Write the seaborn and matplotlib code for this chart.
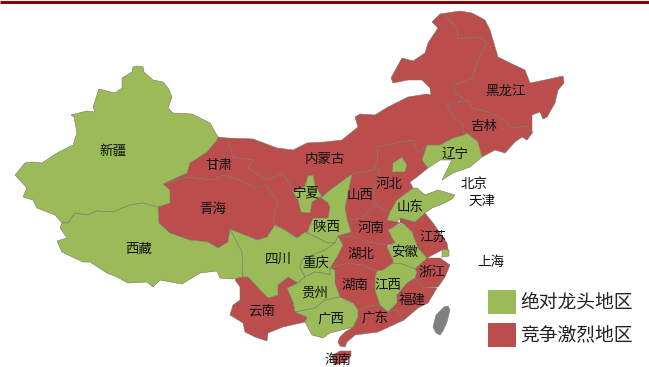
import matplotlib
matplotlib.use("Agg")
import matplotlib.pyplot as plt
import seaborn as sns

sns.set_theme(style="white")
plt.rcParams['font.family'] = ['Noto Sans CJK SC', 'DejaVu Sans']

XINJIANG = [(137,66),(143,67),(144,72),(153,80),(163,82),(168,88),(172,97),(168,108),(173,113),(192,114),(210,123),(218,137),
            (217,140),(207,152),(190,163),(187,173),(163,184),(170,190),(170,203),(158,207),(143,203),(130,205),(113,212),(97,211),
            (88,215),(75,213),(68,223),(62,223),(55,215),(37,208),(33,200),(23,197),(27,188),(15,175),(25,163),(33,162),(42,163),
            (57,153),(73,145),(77,133),(74,117),(71,115),(87,111),(95,112),(93,107),(99,89),(115,93),(122,88),(122,78),(132,72),(133,67)]
XIZANG = [(62,223),(68,223),(75,213),(88,215),(97,211),(113,212),(130,205),(143,203),(158,207),(159,223),(170,233),(190,240),
          (208,242),(218,248),(228,242),(230,229),(242,252),(243,277),(233,279),(220,278),(217,271),(200,273),(182,284),(160,280),
          (153,287),(147,282),(128,283),(117,277),(107,273),(90,262),(83,262),(68,255),(62,252),(57,241),(67,238),(60,228)]
QINGHAI = [(163,184),(187,177),(213,180),(223,175),(240,180),(253,187),(267,187),(278,202),(273,220),(275,225),(267,237),(257,240),
           (230,229),(228,242),(218,248),(208,242),(190,240),(170,233),(159,223),(158,207),(170,203),(170,190)]
GANSU = [(218,137),(227,138),(233,157),(253,160),(248,168),(267,180),(283,173),(288,182),(293,192),(298,200),(301,212),(310,213),
         (312,202),(320,197),(328,203),(330,207),(328,218),(313,218),(307,233),(305,232),(297,238),(285,230),(275,225),(273,220),
         (278,202),(267,187),(253,187),(240,180),(223,175),(213,180),(187,177),(163,184),(187,173),(190,163),(207,152),(217,140)]
NEIMENGGU = [(227,138),(253,139),(277,148),(293,150),(307,143),(325,142),(342,140),(358,127),(355,117),(360,114),(375,115),(388,107),
             (408,97),(427,94),(431,95),(430,88),(422,80),(408,80),(393,83),(391,78),(402,58),(413,61),(425,53),(428,43),(438,28),
             (432,22),(440,14),(445,15),(457,28),(458,39),(480,37),(487,43),(478,60),(472,78),(455,85),(455,93),(463,98),(457,103),
             (447,105),(453,117),(462,123),(464,135),(453,138),(440,145),(427,145),(418,153),(413,140),(400,142),(378,147),(377,163),
             (373,170),(352,174),(330,190),(322,197),(315,185),(313,175),(308,176),(305,186),(293,192),(288,182),(283,173),(267,180),
             (248,168),(253,160),(233,157)]
HEILONGJIANG = [(440,14),(460,11),(472,13),(485,20),(490,30),(498,57),(508,62),(525,70),(530,83),(545,80),(563,76),(564,83),(558,90),
                (555,103),(547,117),(543,119),(540,112),(532,115),(532,132),(525,126),(512,128),(505,120),(488,112),(472,108),(468,100),
                (447,105),(457,103),(463,98),(455,93),(455,85),(472,78),(478,60),(487,43),(480,37),(458,39),(457,28),(445,15)]
JILIN = [(447,105),(468,100),(472,108),(488,112),(505,120),(512,128),(525,126),(532,132),(533,132),(527,140),(522,137),(515,142),
         (505,153),(495,150),(482,157),(478,142),(467,133),(464,135),(462,123),(453,117)]
LIAONING = [(464,135),(467,133),(478,142),(482,157),(470,167),(453,173),(442,180),(447,170),(452,160),(440,160),(428,168),(422,160),
            (427,145),(440,145),(453,138)]
HEBEI = [(377,163),(378,147),(400,142),(413,140),(418,153),(427,145),(422,160),(428,168),(417,177),(410,182),(413,188),(397,200),
         (390,212),(375,205),(373,193),(380,170),(373,170)]
BEIJING = [(402,157),(407,165),(405,172),(392,172),(393,163)]
SHANXI = [(352,174),(373,170),(380,170),(373,193),(375,205),(362,218),(347,220),(345,208),(348,193)]
SHAANXI = [(352,174),(348,193),(345,208),(348,222),(351,232),(338,236),(335,243),(328,243),(307,233),(313,218),(328,218),(330,207),(328,203),
           (320,197),(322,197),(330,190)]
NINGXIA = [(313,175),(308,176),(305,186),(293,192),(298,200),(301,212),(310,213),(312,202),(320,197),(322,197),(315,185)]
SHANDONG = [(387,220),(390,212),(397,200),(413,188),(417,188),(425,195),(438,190),(455,195),(452,199),(440,205),(432,208),(425,213),(415,222),(400,218),(397,222)]
HENAN = [(348,222),(347,220),(362,218),(375,205),(390,212),(387,220),(397,222),(400,223),(388,230),(395,243),(388,245),(368,242),(353,237),(338,236),(351,232)]
JIANGSU = [(400,218),(415,222),(425,213),(433,223),(447,243),(448,250),(442,250),(427,258),(418,248),(412,232),(403,223),(400,223)]
SHANGHAI = [(442,249),(449,250),(449,256),(442,257)]
ANHUI = [(388,230),(403,223),(412,232),(418,248),(427,258),(415,269),(402,264),(393,263),(393,260),(387,247),(395,243)]
HUBEI = [(338,236),(353,237),(368,242),(388,245),(387,247),(393,260),(393,263),(383,270),(377,271),(362,265),(347,263),(330,268),(338,255),(343,245)]
SICHUAN = [(230,229),(257,240),(267,237),(275,225),(285,230),(297,238),(305,232),(307,233),(328,243),(335,243),(325,250),(313,255),
           (302,260),(300,267),(305,277),(298,283),(288,277),(278,285),(278,295),(268,298),(248,277),(243,277),(242,252)]
CHONGQING = [(300,267),(302,260),(313,255),(325,250),(335,243),(338,236),(343,245),(338,255),(330,268),(330,275),(323,273),(315,272),(305,277)]
GUIZHOU = [(298,283),(305,277),(315,272),(323,273),(330,275),(330,268),(335,270),(335,283),(340,297),(325,300),(315,308),(295,312),(293,302),(287,288)]
GUANGXI = [(295,312),(315,308),(325,300),(340,297),(342,298),(353,303),(358,310),(358,317),(353,327),(330,333),(323,338),(312,335),(305,322),(307,317)]
YUNNAN = [(235,280),(240,275),(248,277),(268,298),(278,295),(278,285),(288,277),(298,283),(287,288),(293,302),(295,312),(307,317),
          (305,322),(283,327),(268,333),(267,341),(255,337),(245,332),(243,323),(230,315),(233,305),(240,300),(240,287)]
HUNAN = [(330,268),(347,263),(362,265),(377,271),(375,277),(375,290),(380,305),(370,306),(358,310),(353,303),(342,298),(340,297),(335,283),(335,270)]
JIANGXI = [(377,271),(383,270),(393,263),(402,264),(415,269),(417,272),(415,278),(407,283),(397,295),(397,303),(388,312),(380,305),(375,290),(375,277)]
ZHEJIANG = [(427,258),(440,258),(450,265),(445,277),(438,287),(422,288),(415,278),(417,272),(415,269)]
FUJIAN = [(415,278),(422,288),(437,288),(428,303),(418,308),(404,320),(397,310),(388,312),(397,303),(397,295),(407,283)]
GUANGDONG = [(370,306),(380,305),(388,312),(397,310),(404,320),(378,332),(355,335),(347,342),(345,347),(340,346),(338,342),(340,337),(345,332),(353,327),(358,317),(358,310)]
HAINAN = [(332,356),(340,351),(351,351),(351,356),(345,362),(335,365)]
TAIWAN = [(448,306),(444,307),(436,315),(433,327),(436,333),(440,335),(443,331),(447,322),(450,310)]

LEADER_REGIONS = [XINJIANG, XIZANG, NINGXIA, SHAANXI, SICHUAN, CHONGQING, GUIZHOU, GUANGXI, BEIJING, LIAONING, SHANDONG, ANHUI, JIANGXI, SHANGHAI]
CONTEST_REGIONS = [GANSU, QINGHAI, NEIMENGGU, HEILONGJIANG, JILIN, HEBEI, SHANXI, HENAN, HUBEI, HUNAN, JIANGSU, ZHEJIANG, FUJIAN, GUANGDONG, YUNNAN, HAINAN]
OTHER_REGIONS = [TAIWAN]

LABEL_TEXT = ['新疆','甘肃','内蒙古','青海','西藏','四川','重庆','贵州','云南','广西','广东','湖南','江西','福建','浙江','江苏',
              '安徽','湖北','河南','山西','河北','山东','陕西','宁夏','辽宁','吉林','黑龙江','北京','天津','上海','海南']
LABEL_X = [113,219,325,213,139,278,316,315,262,331,375,355,388,412,432,433,405,361,371,360,389,410,326,306,455,484,505,474,482,491,338]
LABEL_Y = [151,165,159,209,249,259,263,292,310,319,319,285,285,300,272,237,252,254,228,195,184,207,227,192,154,126,91,184,201,262,360]

LEGEND_TEXT = ['绝对龙头地区', '竞争激烈地区']

GREEN, RED = sns.color_palette(['#9BBB59', '#BC4D4D'])
GRAY = '#808080'
EDGE = '#77776a'

fig = plt.figure(figsize=(6.49, 3.67), dpi=100, facecolor='white')
ax = fig.add_axes([0, 0, 1, 1])
ax.set_xlim(0, 649)
ax.set_ylim(367, 0)
ax.axis('off')

ax.plot([0, 649], [2, 2], color='#8B0000', lw=2.2, solid_capstyle='butt')

for reg in CONTEST_REGIONS:
    xs, ys = zip(*reg)
    ax.fill(xs, ys, facecolor=RED, edgecolor=EDGE, lw=0.4, zorder=2)
for reg in LEADER_REGIONS:
    xs, ys = zip(*reg)
    ax.fill(xs, ys, facecolor=GREEN, edgecolor=EDGE, lw=0.4, zorder=3)
for reg in OTHER_REGIONS:
    xs, ys = zip(*reg)
    ax.fill(xs, ys, facecolor=GRAY, edgecolor=GRAY, lw=0.4, zorder=3)

for t, x, y in zip(LABEL_TEXT, LABEL_X, LABEL_Y):
    ax.text(x, y, t, ha='center', va='center', fontsize=9.7, color='#111111', zorder=5)

for i, (t, c) in enumerate(zip(LEGEND_TEXT, [GREEN, RED])):
    y0 = 290 + i * 33
    ax.add_patch(plt.Rectangle((488, y0), 28, 24, facecolor=c, edgecolor='none', zorder=4))
    ax.text(520, y0 + 12, t, ha='left', va='center', fontsize=13.5, color='#222222', zorder=5)

fig.savefig('out.png', dpi=100)
